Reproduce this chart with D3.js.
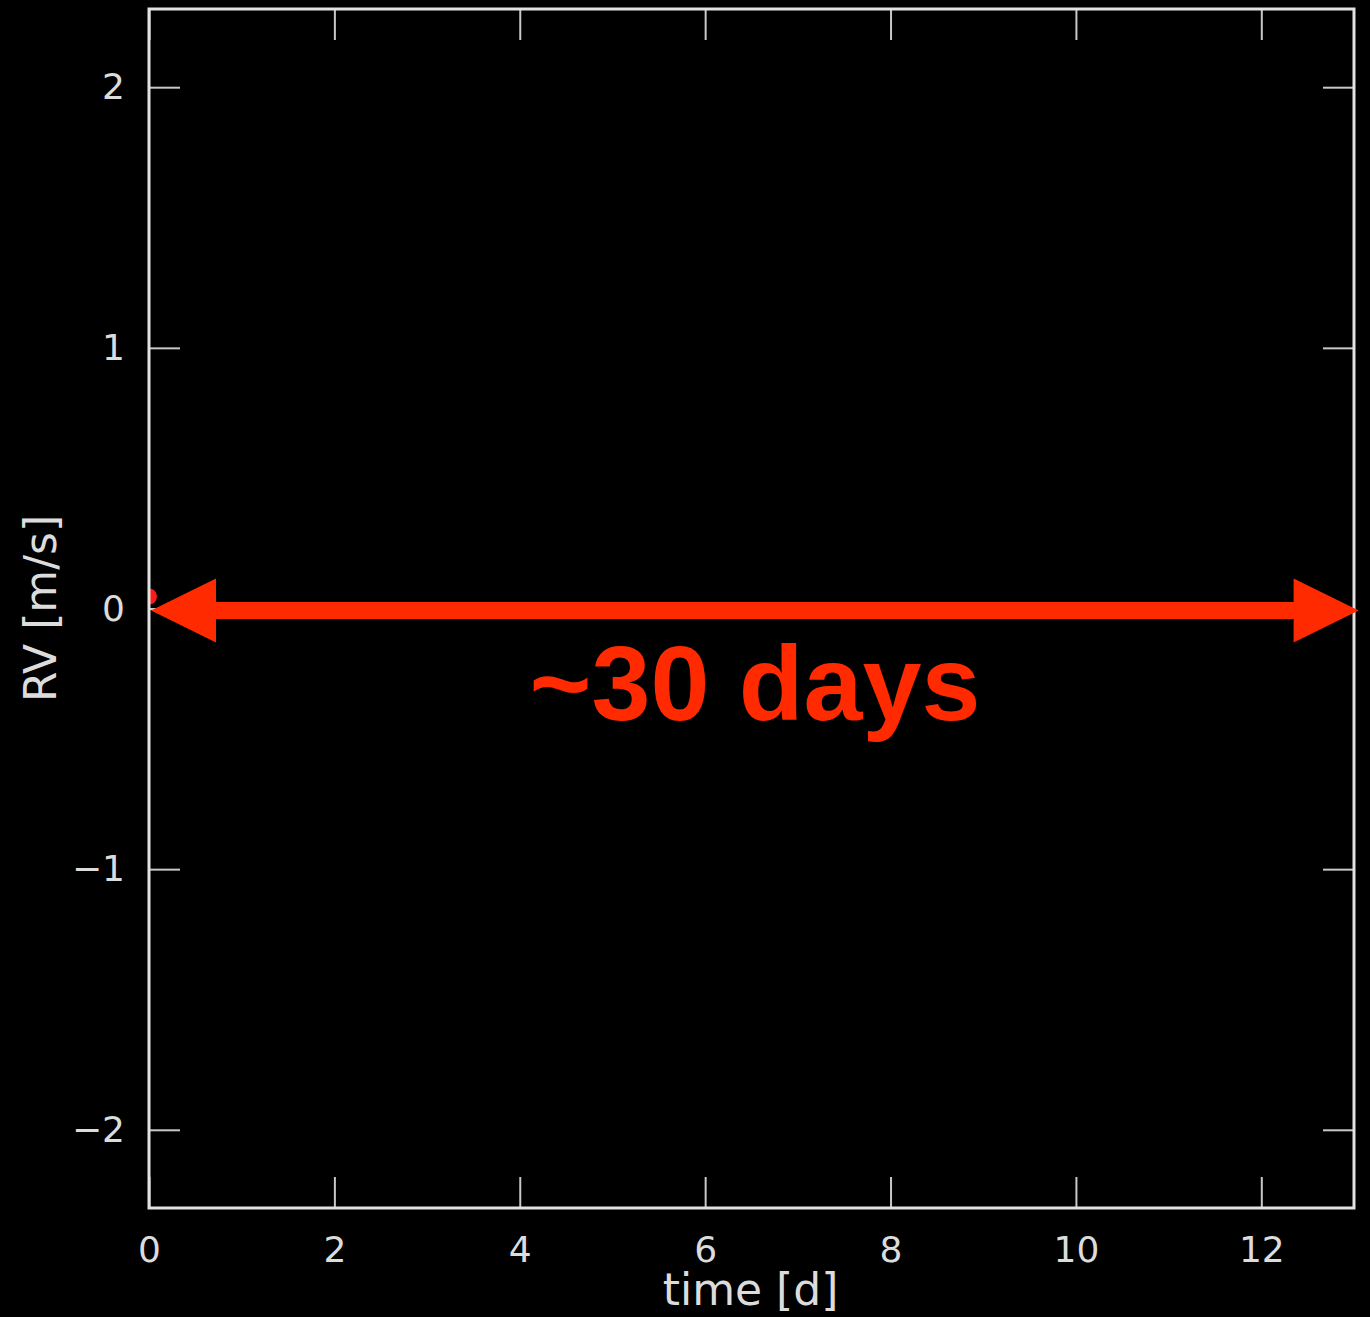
<!DOCTYPE html>
<html>
<head>
<meta charset="utf-8">
<script src="https://cdn.jsdelivr.net/npm/d3@7"></script>
<style>
  html, body { margin: 0; padding: 0; background: #000; }
  svg { display: block; }
</style>
</head>
<body>
<script>
// Radial-velocity series (time in days, RV in m/s)
const timeDays = [0];
const rvValues = [0.046];

// Axis ticks
const xTicks = [0, 2, 4, 6, 8, 10, 12];
const yTicks = [-2, -1, 0, 1, 2];
const xTickLabels = ["0", "2", "4", "6", "8", "10", "12"];
const yTickLabels = ["\u22122", "\u22121", "0", "1", "2"];

// Annotation: span arrow across the time range
const spanStart = [0, 0];
const spanEnd = [13.05, 0];
const spanLabel = "~30 days";

const W = 1370, H = 1317;
const margin = { left: 149, right: 16, top: 9, bottom: 109 };

const svg = d3.select("body").append("svg")
  .attr("width", W).attr("height", H)
  .style("background", "#000");

const x = d3.scaleLinear().domain([0, 13]).range([margin.left, W - margin.right]);
const y = d3.scaleLinear().domain([-2.3, 2.3]).range([H - margin.bottom, margin.top]);

const axisColor = "#e2e2e2";
const tickColor = "#c8c8c8";
const font = "'DejaVu Sans', sans-serif";
const tickLen = 31;

// clip for data marks
svg.append("defs").append("clipPath").attr("id", "plotClip")
  .append("rect")
  .attr("x", x(0)).attr("y", y(2.3))
  .attr("width", x(13) - x(0)).attr("height", y(-2.3) - y(2.3));

// data points
svg.append("g").attr("clip-path", "url(#plotClip)")
  .selectAll("circle")
  .data(timeDays.map((t, i) => ({ t, v: rvValues[i] })))
  .join("circle")
  .attr("cx", d => x(d.t)).attr("cy", d => y(d.v))
  .attr("r", 8).attr("fill", "#ff1a1a");

// axes with inward ticks on all four sides
function styleAxis(g) {
  g.select(".domain").remove();
  g.selectAll(".tick line").attr("stroke", tickColor).attr("stroke-width", 2);
  g.selectAll(".tick text").attr("fill", "#dcdcdc")
    .style("font-family", font).style("font-size", "36px");
}

svg.append("g")
  .attr("transform", `translate(0,${y(-2.3)})`)
  .call(d3.axisBottom(x).tickValues(xTicks)
    .tickFormat((d, i) => xTickLabels[i])
    .tickSizeInner(-tickLen).tickSizeOuter(0).tickPadding(28))
  .call(styleAxis);

svg.append("g")
  .attr("transform", `translate(0,${y(2.3)})`)
  .call(d3.axisTop(x).tickValues(xTicks).tickFormat("")
    .tickSizeInner(-tickLen).tickSizeOuter(0))
  .call(styleAxis);

svg.append("g")
  .attr("transform", `translate(${x(0)},0)`)
  .call(d3.axisLeft(y).tickValues(yTicks)
    .tickFormat((d, i) => yTickLabels[i])
    .tickSizeInner(-tickLen).tickSizeOuter(0).tickPadding(24))
  .call(styleAxis);

svg.append("g")
  .attr("transform", `translate(${x(13)},0)`)
  .call(d3.axisRight(y).tickValues(yTicks).tickFormat("")
    .tickSizeInner(-tickLen).tickSizeOuter(0))
  .call(styleAxis);

// plot frame
svg.append("rect")
  .attr("x", x(0)).attr("y", y(2.3))
  .attr("width", x(13) - x(0)).attr("height", y(-2.3) - y(2.3))
  .attr("fill", "none").attr("stroke", axisColor).attr("stroke-width", 3);

// axis titles
svg.append("text")
  .attr("x", (x(0) + x(13)) / 2 - 1).attr("y", 1305)
  .attr("text-anchor", "middle")
  .attr("fill", "#dcdcdc")
  .style("font-family", font).style("font-size", "44px")
  .text("time [d]");

svg.append("text")
  .attr("transform", `translate(56,${y(0)}) rotate(-90)`)
  .attr("text-anchor", "middle")
  .attr("fill", "#dcdcdc")
  .style("font-family", font).style("font-size", "44px")
  .text("RV [m/s]");

// double-headed span arrow
const red = "#ff2a00";
const ax0 = x(spanStart[0]) + 2, ax1 = x(spanEnd[0]);
const ay = y(spanStart[1]) + 2;
const headLen = 65, headHalf = 32, shaftHalf = 8.5;

svg.append("rect")
  .attr("x", ax0 + headLen - 2).attr("y", ay - shaftHalf)
  .attr("width", (ax1 - headLen) - (ax0 + headLen) + 4).attr("height", shaftHalf * 2)
  .attr("fill", red);

svg.append("path")
  .attr("d", `M${ax0},${ay} L${ax0 + headLen},${ay - headHalf} L${ax0 + headLen},${ay + headHalf} Z`)
  .attr("fill", red);

svg.append("path")
  .attr("d", `M${ax1},${ay} L${ax1 - headLen},${ay - headHalf} L${ax1 - headLen},${ay + headHalf} Z`)
  .attr("fill", red);

svg.append("text")
  .attr("x", 755).attr("y", 720)
  .attr("text-anchor", "middle")
  .attr("fill", red)
  .style("font-family", "'Liberation Sans', Arial, sans-serif")
  .style("font-weight", "bold").style("font-size", "106px")
  .text(spanLabel);
</script>
</body>
</html>
